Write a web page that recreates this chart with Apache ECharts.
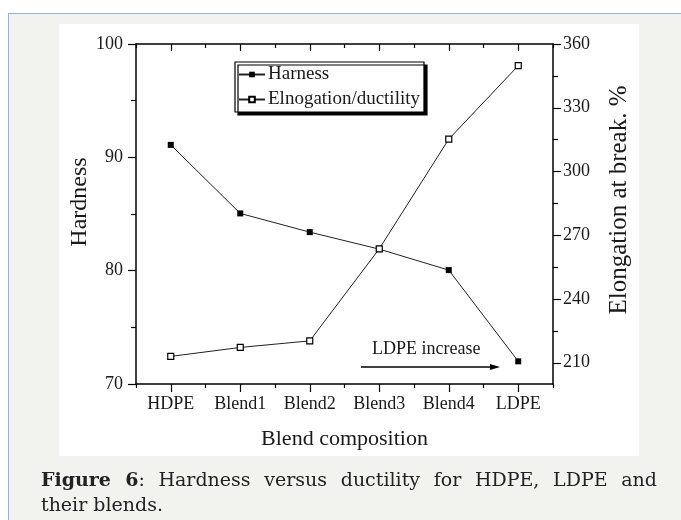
<!DOCTYPE html>
<html>
<head>
<meta charset="utf-8">
<script src="https://cdn.jsdelivr.net/npm/echarts@6/dist/echarts.min.js"></script>
<style>
  html, body { margin: 0; padding: 0; width: 681px; height: 520px; overflow: hidden; background: #ffffff; }
  #frame { position: absolute; left: 8px; top: 13px; width: 700px; height: 540px;
           border-left: 1.5px solid #8db4e2; border-top: 1.5px solid #8db4e2; background: #f2f2ee; }
  #panel { position: absolute; left: 59px; top: 24px; width: 580px; height: 432px; background: #ffffff; }
  #chart { position: absolute; left: 0; top: 0; width: 681px; height: 520px; }
  #caption { position: absolute; left: 41px; top: 467px; width: 616px; font-family: "DejaVu Serif", serif;
             font-size: 19px; line-height: 25px; color: #222; }
  #caption .l1 { text-align: justify; text-align-last: justify; white-space: nowrap; }
</style>
</head>
<body>
<div id="frame"></div>
<div id="panel"></div>
<div id="chart"></div>
<div id="caption"><div class="l1"><b>Figure 6</b>: Hardness versus ductility for HDPE, LDPE and</div><div>their blends.</div></div>
<script>
const categories = ['HDPE', 'Blend1', 'Blend2', 'Blend3', 'Blend4', 'LDPE'];
const hardness = [91.1, 85.05, 83.4, 81.9, 80.05, 72.0];
const elongation = [213.0, 217.2, 220.3, 263.6, 315.2, 349.8];
const hardnessTicks = [70, 80, 90, 100];
const elongationTicks = [210, 240, 270, 300, 330, 360];
const elongationMinorTicks = [225, 255, 285, 315, 345];

const serif = '"Liberation Serif", "Times New Roman", serif';
const ink = '#1a1a1a';
const axisLine = { show: true, lineStyle: { color: '#000', width: 1.5 } };

const chart = echarts.init(document.getElementById('chart'), null, { renderer: 'canvas' });
chart.setOption({
  animation: false,
  backgroundColor: 'transparent',
  grid: { left: 136, top: 44, right: 128, bottom: 136, containLabel: false },
  legend: {
    left: 235, top: 62, orient: 'vertical',
    padding: [3, 4, 3, 3], itemGap: 6, itemWidth: 26, itemHeight: 7,
    backgroundColor: '#fff', borderColor: '#000', borderWidth: 1.2,
    shadowColor: '#000', shadowOffsetX: 3, shadowOffsetY: 3, shadowBlur: 0,
    textStyle: { fontFamily: serif, fontSize: 19, color: ink, padding: [0, 0, 0, -2] },
    data: ['Harness', 'Elnogation/ductility']
  },
  xAxis: [
    { type: 'category', position: 'bottom', data: categories, boundaryGap: true,
      axisLine: axisLine,
      axisTick: { show: true, alignWithLabel: true, length: 8, inside: false, lineStyle: { color: '#000', width: 1.2 } },
      axisLabel: { fontFamily: serif, fontSize: 18, color: ink, margin: 11 },
      name: 'Blend composition', nameLocation: 'middle', nameGap: 44,
      nameTextStyle: { fontFamily: serif, fontSize: 22, color: ink } },
    { type: 'category', position: 'bottom', data: categories, boundaryGap: true,
      axisLine: { show: false },
      axisTick: { show: true, alignWithLabel: false, length: 4, lineStyle: { color: '#000', width: 1.2 } },
      axisLabel: { show: false } },
    { type: 'category', position: 'top', data: categories, boundaryGap: true,
      axisLine: axisLine,
      axisTick: { show: true, alignWithLabel: true, inside: true, length: 7, lineStyle: { color: '#000', width: 1.2 } },
      axisLabel: { show: false } },
    { type: 'category', position: 'top', data: categories, boundaryGap: true,
      axisLine: { show: false },
      axisTick: { show: true, alignWithLabel: false, inside: true, length: 4, lineStyle: { color: '#000', width: 1.2 } },
      axisLabel: { show: false } }
  ],
  yAxis: [
    { type: 'value', position: 'left', min: 70, max: 100, interval: 10,
      axisLine: axisLine, splitLine: { show: false },
      axisTick: { show: true, length: 8, customValues: hardnessTicks, lineStyle: { color: '#000', width: 1.2 } },
      minorTick: { show: true, splitNumber: 2, length: 5, lineStyle: { color: '#000', width: 1.2 } },
      axisLabel: { fontFamily: serif, fontSize: 18, color: ink, margin: 13, customValues: hardnessTicks },
      name: 'Hardness', nameLocation: 'middle', nameGap: 44, nameMoveOverlap: false,
      nameTextStyle: { fontFamily: serif, fontSize: 24, color: ink, padding: [0, 0, 0, 24] } },
    { type: 'value', position: 'right', min: 200, max: 360,
      axisLine: axisLine, splitLine: { show: false },
      axisTick: { show: true, length: 8, customValues: elongationTicks, lineStyle: { color: '#000', width: 1.2 } },
      axisLabel: { fontFamily: serif, fontSize: 18, color: ink, margin: 10, customValues: elongationTicks },
      name: 'Elongation at break. %', nameLocation: 'middle', nameGap: 54, nameRotate: 90,
      nameTextStyle: { fontFamily: serif, fontSize: 25, color: ink, padding: [0, 0, 0, 28] } },
    { type: 'value', position: 'right', min: 200, max: 360,
      axisLine: { show: false }, splitLine: { show: false },
      axisTick: { show: true, length: 5, customValues: elongationMinorTicks, lineStyle: { color: '#000', width: 1.2 } },
      axisLabel: { show: false } }
  ],
  series: [
    { name: 'Harness', type: 'line', xAxisIndex: 0, yAxisIndex: 0, data: hardness,
      symbol: 'rect', symbolSize: 6, showAllSymbol: true,
      itemStyle: { color: '#000' }, lineStyle: { color: '#222', width: 1 } },
    { name: 'Elnogation/ductility', type: 'line', xAxisIndex: 0, yAxisIndex: 1, data: elongation,
      symbol: 'rect', symbolSize: 6, showAllSymbol: true,
      itemStyle: { color: '#fff', borderColor: '#000', borderWidth: 1.2 }, lineStyle: { color: '#222', width: 1 } }
  ],
  graphic: [
    { type: 'text', left: 372, top: 340,
      style: { text: 'LDPE increase', fontFamily: serif, fontSize: 18, fill: ink } },
    { type: 'line', shape: { x1: 361, y1: 367, x2: 494, y2: 367 }, style: { stroke: '#000', lineWidth: 1.3 } },
    { type: 'polygon', shape: { points: [[500, 367], [490, 364], [490, 370]] }, style: { fill: '#000' } }
  ]
});
</script>
</body>
</html>
